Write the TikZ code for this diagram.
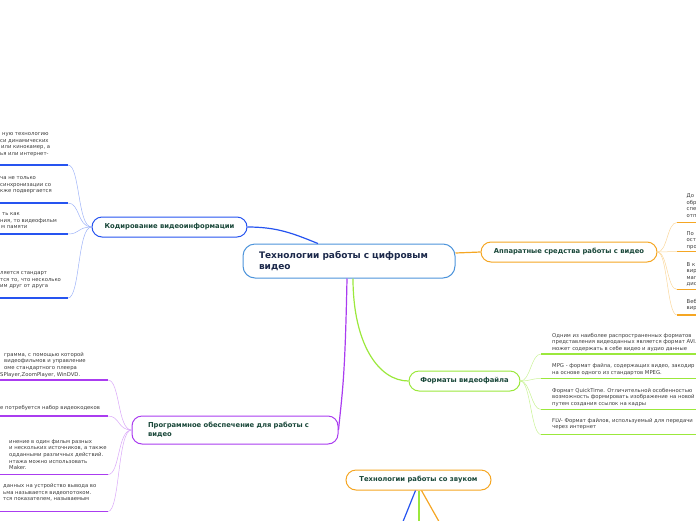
\documentclass[tikz,border=0pt]{standalone}
\usepackage{fontspec}
\setmainfont{DejaVu Sans}
\usetikzlibrary{positioning}
\definecolor{mainblue}{RGB}{77,148,219}
\definecolor{kodblue}{RGB}{38,84,240}
\definecolor{progpurple}{RGB}{170,60,240}
\definecolor{apporange}{RGB}{245,166,35}
\definecolor{formgreen}{RGB}{155,232,60}
\definecolor{maintext}{RGB}{27,40,74}
\definecolor{topictext}{RGB}{26,72,58}
\definecolor{leafgray}{RGB}{60,60,60}

\begin{document}
\begin{tikzpicture}[
  x=1pt, y=-1pt,
  mainnode/.style={rectangle, rounded corners=12pt, draw=mainblue, line width=1pt, fill=white,
    minimum height=34pt, inner xsep=16pt, text width=180pt, align=left,
    font=\fontsize{9}{11}\selectfont\bfseries, text=maintext},
  topic/.style={rectangle, rounded corners=10pt, line width=1pt, fill=white,
    minimum height=20pt, inner xsep=8pt,
    font=\fontsize{6.8}{8.6}\selectfont\bfseries, text=topictext},
  leaf/.style={anchor=north west, inner sep=0pt, align=left,
    font=\fontsize{5.3}{6.6}\selectfont, text=leafgray},
  link/.style={line width=0.5pt},
  branch/.style={line width=1.2pt},
  uline/.style={line width=1.6pt}
]
\useasboundingbox (0,0) rectangle (696,520);
\clip (0,0) rectangle (696,520);

% центральная тема
\node[mainnode] (center) at (349,261) {Технологии работы с цифровым\\видео};

% ветви
\node[topic, draw=kodblue, minimum width=155pt] (kod) at (169.5,227) {Кодирование видеоинформации};
\node[topic, draw=progpurple, minimum width=206pt, minimum height=28pt, text width=174pt, align=left] (prog) at (235,430) {Программное обеспечение для работы с\\видео};
\node[topic, draw=apporange, minimum width=176pt] (app) at (569,252) {Аппаратные средства работы с видео};
\node[topic, draw=formgreen, minimum width=111pt] (form) at (464.5,381) {Форматы видеофайла};
\node[topic, draw=apporange, minimum width=145pt] (sound) at (418.5,480) {Технологии работы со звуком};

\draw[branch, kodblue] (kod.east) .. controls +(30,0) and +(-25,-10) .. ([xshift=-31pt]center.north);
\draw[branch, apporange] ([yshift=8pt]center.east) .. controls +(12,0) and +(-12,0) .. (app.west);
\draw[branch, formgreen] ([xshift=4pt]center.south) .. controls +(0,65) and +(-30,0) .. (form.west);
\draw[branch, progpurple] ([xshift=-2pt]center.south) .. controls +(-2,100) and +(4,-40) .. (prog.east);

% звук: ветви уходят вниз
\coordinate (sb) at (398,534);
\coordinate (sg) at (419,534);
\coordinate (so) at (446,534);
\draw[branch, kodblue] ([xshift=-3pt]sound.south) -- (sb);
\draw[branch, formgreen] ([xshift=0.5pt]sound.south) -- (sg);
\draw[branch, apporange] ([xshift=3pt]sound.south) -- (so);

% кодирование
\coordinate (k1) at (68,165);
\coordinate (k2) at (68,203);
\coordinate (k3) at (68,234);
\coordinate (k4) at (68,298);
\foreach \c in {k1,k2,k3,k4} {
  \draw[link, kodblue!45] (kod.west) .. controls +(-14,0) and +(12,0) .. (\c);
  \draw[uline, kodblue] (\c) -- ++(-70,0);
}
\node[leaf] (k1t) at (0,132.5) {\hspace{2pt}ную технологию\\си динамических\\\hspace{1pt}или кинокамер, а\\ья или интернет-};
\node[leaf] (k2t) at (0,176.5) {ча не только\\синхронизации со\\кже подвергается};
\node[leaf] (k3t) at (0,212.5) {\hspace{2pt}ть как\\ния, то видеофильм\\\hspace{1pt}м памяти};
\node[leaf] (k4t) at (0,271.5) {ляется стандарт\\тся то, что несколько\\им друг от друга};

% программное обеспечение
\coordinate (p1) at (108,380);
\coordinate (p2) at (108,416);
\coordinate (p3) at (108,474.5);
\coordinate (p4) at (108,511.5);
\foreach \c in {p1,p2,p3,p4} {
  \draw[link, progpurple!45] (prog.west) .. controls +(-14,0) and +(12,0) .. (\c);
  \draw[uline, progpurple] (\c) -- ++(-110,0);
}
\node[leaf] (p1t) at (0,352) {\hspace{4pt}грамма, с помощью которой\\\hspace{4pt}видеофильмов и управление\\\hspace{4pt}оме стандартного плеера\\SPlayer,ZoomPlayer, WinDVD.};
\node[leaf] (p2t) at (0,405.5) {е потребуется набор видеокодеков};
\node[leaf] (p3t) at (0,439.2) {\hspace{9pt}инение в один фильм разных\\\hspace{9pt}и нескольких источников, а также\\\hspace{9pt}одданными различных действий.\\\hspace{9pt}нтажа можно использовать\\\hspace{9pt}Maker.};
\node[leaf] (p4t) at (0,483.5) {\hspace{3pt}данных на устройство вывода во\\\hspace{3pt}ьма называется видеопотоком.\\\hspace{3pt}тся показателем, называемым};

% аппаратные средства
\coordinate (o1) at (677,222.5);
\coordinate (o2) at (677,251.5);
\coordinate (o3) at (677,289.5);
\coordinate (o4) at (677,315);
\foreach \c in {o1,o2,o3,o4} {
  \draw[link, apporange!45] (app.east) .. controls +(10,0) and +(-10,0) .. (\c);
  \draw[uline, apporange] (\c) -- ++(30,0);
}
\node[leaf] (o1t) at (686.5,193.5) {До\\обр\\спе\\отп};
\node[leaf] (o2t) at (686.5,231) {По\\ост\\про};
\node[leaf] (o3t) at (686.5,262) {В к\\вир\\маг\\дис};
\node[leaf] (o4t) at (686.5,299) {Веб\\вир};

% форматы
\coordinate (g1) at (541,354);
\coordinate (g2) at (541,378.5);
\coordinate (g3) at (541,409.5);
\coordinate (g4) at (541,434.5);
\foreach \c in {g1,g2,g3,g4} {
  \draw[link, formgreen!55] (form.east) .. controls +(10,0) and +(-10,0) .. (\c);
  \draw[uline, formgreen] (\c) -- ++(170,0);
}
\node[leaf] (g1t) at (552,333) {Одним из наиболее распространенных форматов\\представления видеоданных является формат AVI.\\может содержать в себе видео и аудио данные};
\node[leaf] (g2t) at (552,363.5) {MPG - формат файла, содержащих видео, закодир\\на основе одного из стандартов MPEG.};
\node[leaf] (g3t) at (552,388) {Формат QuickTime. Отличительной особенностью\\возможность формировать изображение на новой\\путем создания ссылок на кадры};
\node[leaf] (g4t) at (552,418) {FLV- Формат файлов, используемый для передачи\\через интернет};

\end{tikzpicture}
\end{document}
